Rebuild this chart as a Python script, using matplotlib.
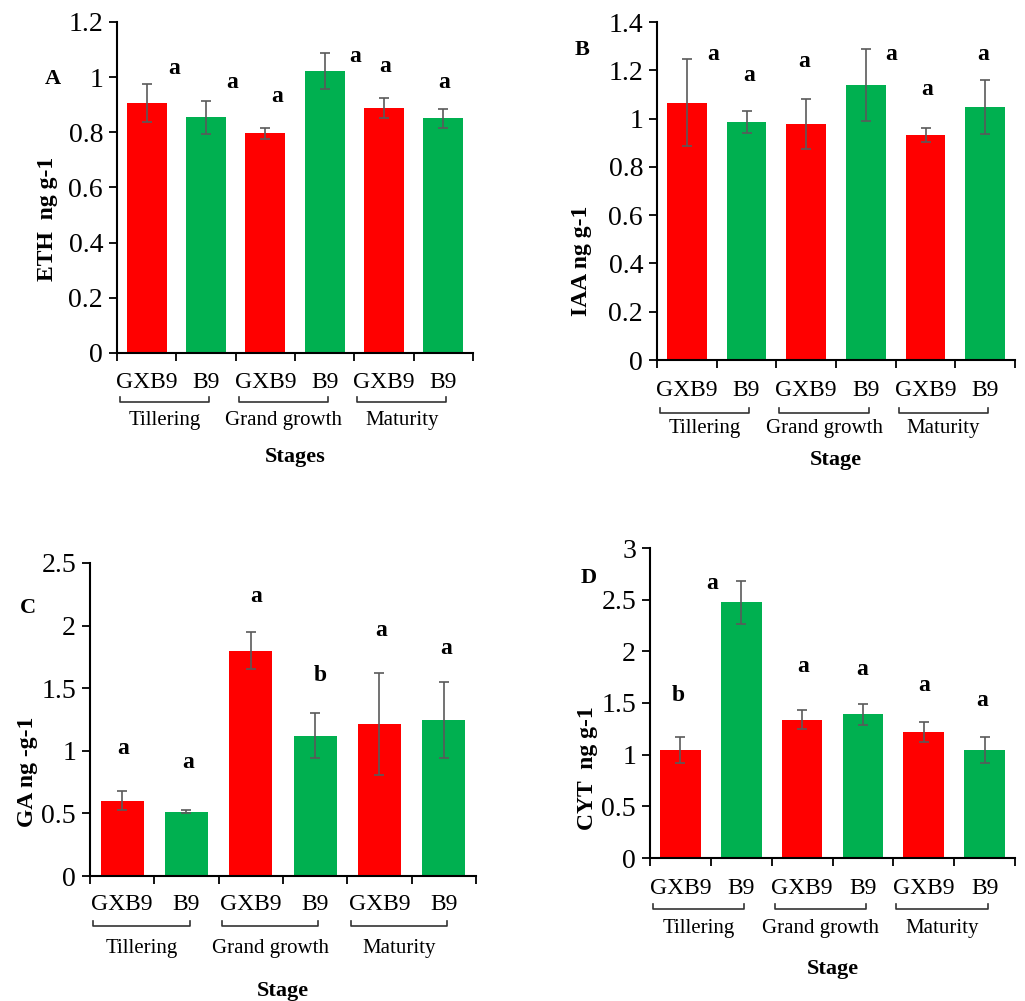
import matplotlib.pyplot as plt
import matplotlib.transforms as mtransforms
import numpy as np

plt.rcParams['font.family'] = 'serif'
plt.rcParams['font.serif'] = ['Liberation Serif', 'DejaVu Serif']

W, H = 1025, 1001

cultivars = ['GXB9', 'B9', 'GXB9', 'B9', 'GXB9', 'B9']
stages = ['Tillering', 'Grand growth', 'Maturity']
bar_colors = ['#ff0000', '#00b050'] * 3

# panel A - ethylene
eth = [0.906, 0.855, 0.797, 1.022, 0.888, 0.851]
eth_err = [0.07, 0.06, 0.02, 0.065, 0.035, 0.035]
eth_letters = ['a', 'a', 'a', 'a', 'a', 'a']

# panel B - IAA
iaa = [1.065, 0.986, 0.977, 1.139, 0.932, 1.048]
iaa_err = [0.18, 0.045, 0.105, 0.15, 0.03, 0.11]
iaa_letters = ['a', 'a', 'a', 'a', 'a', 'a']

# panel C - GA
ga = [0.60, 0.514, 1.80, 1.12, 1.214, 1.246]
ga_err = [0.075, 0.01, 0.15, 0.18, 0.41, 0.30]
ga_letters = ['a', 'a', 'a', 'b', 'a', 'a']

# panel D - cytokinin
cyt = [1.045, 2.475, 1.34, 1.39, 1.22, 1.045]
cyt_err = [0.13, 0.21, 0.09, 0.10, 0.10, 0.13]
cyt_letters = ['b', 'a', 'a', 'a', 'a', 'a']

# where the significance letters sit (x in bar units, y in data units)
letter_pos = {
    'A': ([0.46, 1.44, 2.2, 3.51, 4.02, 5.01], [1.03, 0.98, 0.93, 1.076, 1.04, 0.98]),
    'B': ([0.45, 1.05, 1.97, 3.42, 4.03, 4.97], [1.265, 1.18, 1.235, 1.265, 1.12, 1.265]),
    'C': ([0.01, 1.02, 2.08, 3.08, 4.03, 5.04], [1.02, 0.91, 2.23, 1.6, 1.96, 1.82]),
    'D': ([-0.04, 0.53, 2.02, 2.98, 4.0, 4.96], [1.57, 2.66, 1.85, 1.82, 1.67, 1.52]),
}

# layout in pixels: axes box, y range, label positions, rows below the axis
panels = [
    dict(tag='A', vals=eth, err=eth_err, let=eth_letters, box=(117, 473, 22, 353),
         ymax=1.2, step=0.2, ylabel='ETH  ng g-1', ylab_xy=(47, 219), tag_xy=(53, 79),
         rows=(29, 49, 67, 104), xlabel='Stages'),
    dict(tag='B', vals=iaa, err=iaa_err, let=iaa_letters, box=(657, 1015, 22, 360),
         ymax=1.4, step=0.2, ylabel='IAA ng g-1', ylab_xy=(582, 261), tag_xy=(582, 50),
         rows=(30, 53, 68, 100), xlabel='Stage'),
    dict(tag='C', vals=ga, err=ga_err, let=ga_letters, box=(90, 476, 563, 876),
         ymax=2.5, step=0.5, ylabel='GA ng -g-1', ylab_xy=(28, 772), tag_xy=(28, 608),
         rows=(28, 50, 72, 115), xlabel='Stage'),
    dict(tag='D', vals=cyt, err=cyt_err, let=cyt_letters, box=(650, 1015, 548, 858),
         ymax=3.0, step=0.5, ylabel='CYT  ng g-1', ylab_xy=(587, 768), tag_xy=(589, 578),
         rows=(31, 51, 71, 111), xlabel='Stage'),
]

fig = plt.figure(figsize=(W / 100, H / 100), dpi=100)

for p in panels:
    l, r, t, b = p['box']
    ax = fig.add_axes([l / W, 1 - b / H, (r - l) / W, (b - t) / H])
    x = np.arange(6)
    ax.bar(x, p['vals'], width=0.67, color=bar_colors, zorder=2)
    ax.errorbar(x, p['vals'], yerr=p['err'], fmt='none', ecolor='#5a5a5a',
                elinewidth=1.2, capsize=3.5, capthick=1.2, zorder=3)
    ax.set_xlim(-0.5, 5.5)
    ax.set_ylim(0, p['ymax'])
    yt = np.round(np.arange(0, p['ymax'] + 1e-9, p['step']), 2)
    ax.set_yticks(yt)
    ax.set_yticklabels([f'{v:g}' for v in yt], fontsize=20)
    ax.set_xticks(np.arange(-0.5, 6, 1))
    ax.set_xticklabels([])
    ax.tick_params(axis='y', direction='out', length=6, width=1.3, pad=4)
    ax.tick_params(axis='x', direction='out', length=6, width=1.3)
    for s in ['top', 'right']:
        ax.spines[s].set_visible(False)
    for s in ['left', 'bottom']:
        ax.spines[s].set_linewidth(1.5)

    xs, ys = letter_pos[p['tag']]
    for xi, yi, lt in zip(xs, ys, p['let']):
        ax.text(xi, yi, lt, ha='center', va='center', fontsize=17, fontweight='bold')

    # rows below axis, placed in figure pixels
    trans = mtransforms.blended_transform_factory(ax.transData, fig.dpi_scale_trans)
    lab_dy, br_dy, st_dy, xl_dy = p['rows']
    yin = lambda dy: (H - (b + dy)) / 100
    for i, c in enumerate(cultivars):
        ax.text(i, yin(lab_dy), c, transform=trans, ha='center', va='center',
                fontsize=17, clip_on=False)
    for g, st in enumerate(stages):
        x0, x1 = 2 * g - 0.45, 2 * g + 1.05
        yb = yin(br_dy)
        hook = 5 / 100
        ax.plot([x0, x0, x1, x1], [yb + hook, yb, yb, yb + hook], transform=trans,
                color='#333333', lw=1.2, clip_on=False)
        ax.text((x0 + x1) / 2, yin(st_dy), st, transform=trans, ha='center',
                va='center', fontsize=15, clip_on=False)
    ax.text(2.5, yin(xl_dy), p['xlabel'], transform=trans, ha='center', va='center',
            fontsize=16, fontweight='bold', clip_on=False)

    fig.text(p['ylab_xy'][0] / W, 1 - p['ylab_xy'][1] / H, p['ylabel'], rotation=90,
             ha='center', va='center', fontsize=17, fontweight='bold')
    fig.text(p['tag_xy'][0] / W, 1 - p['tag_xy'][1] / H, p['tag'], ha='center',
             va='center', fontsize=16, fontweight='bold')

fig.savefig('out.png', dpi=100)
